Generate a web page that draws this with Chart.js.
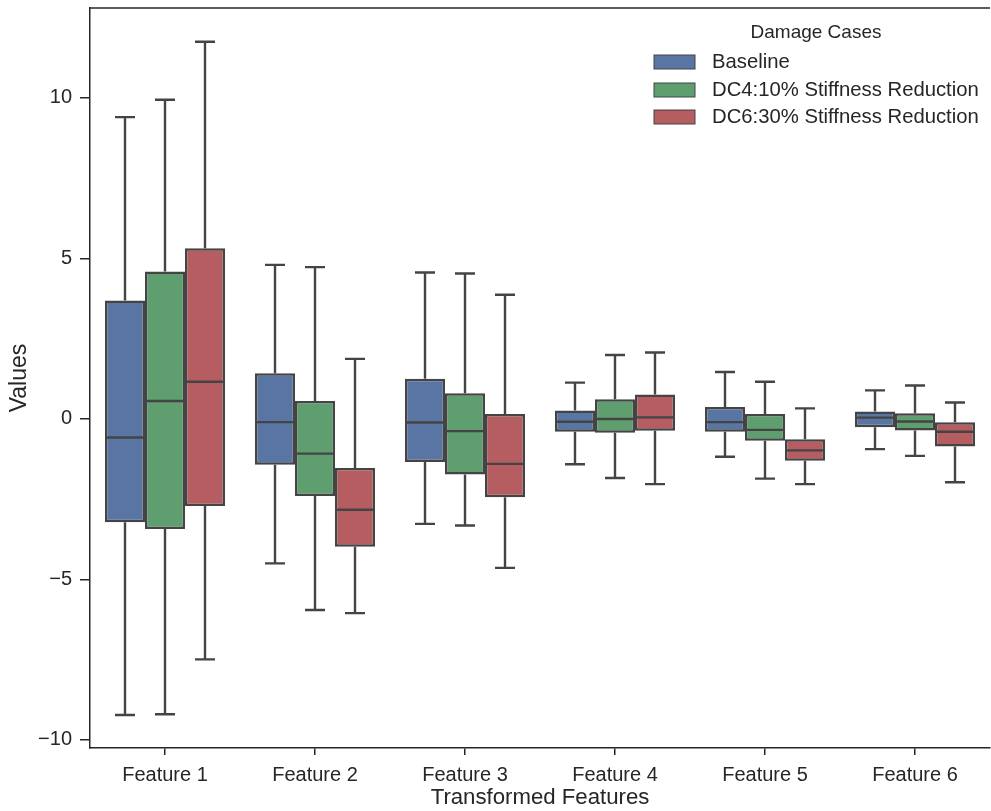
<!DOCTYPE html>
<html>
<head>
<meta charset="utf-8">
<script src="https://cdn.jsdelivr.net/npm/chart.js@4.4.0/dist/chart.umd.min.js"></script>
<style>
  html, body { margin: 0; padding: 0; background: #fff; }
  #wrap { width: 991px; height: 811px; }
</style>
</head>
<body>
<div id="wrap"><canvas id="boxChart"></canvas></div>
<script>
const features = ["Feature 1", "Feature 2", "Feature 3", "Feature 4", "Feature 5", "Feature 6"];
const caseNames = ["Baseline", "DC4:10% Stiffness Reduction", "DC6:30% Stiffness Reduction"];
const yTicks = [-10, -5, 0, 5, 10];

// each entry: [lower whisker, Q1, median, Q3, upper whisker]
const baseline = [
  [-9.22, -3.22, -0.58, 3.69, 9.40],
  [-4.50, -1.43, -0.10, 1.42, 4.80],
  [-3.27, -1.34, -0.11, 1.25, 4.56],
  [-1.41, -0.40, -0.09, 0.26, 1.13],
  [-1.18, -0.40, -0.10, 0.37, 1.46],
  [-0.94, -0.26, 0.04, 0.23, 0.89]
];
const dc4 = [
  [-9.20, -3.43, 0.56, 4.59, 9.94],
  [-5.95, -2.40, -1.08, 0.56, 4.73],
  [-3.32, -1.73, -0.38, 0.80, 4.53],
  [-1.84, -0.43, 0.00, 0.61, 1.99],
  [-1.86, -0.68, -0.34, 0.15, 1.16],
  [-1.15, -0.36, -0.08, 0.18, 1.04]
];
const dc6 = [
  [-7.49, -2.71, 1.16, 5.32, 11.75],
  [-6.05, -3.98, -2.83, -1.53, 1.87],
  [-4.64, -2.44, -1.40, 0.15, 3.87],
  [-2.03, -0.37, 0.05, 0.76, 2.07],
  [-2.03, -1.30, -0.98, -0.63, 0.33],
  [-1.97, -0.86, -0.40, -0.10, 0.51]
];

const colors = ["#5875a4", "#5f9e6e", "#b55d60"];
const lineColor = "#444444";
const textColor = "#262626";
const fontFamily = "'Liberation Sans', Arial, sans-serif";

const allStats = [baseline, dc4, dc6];

/* whiskers, caps, medians, top spine and legend */
const boxParts = {
  id: "boxParts",
  afterDatasetsDraw(chart) {
    const ctx = chart.ctx;
    const y = chart.scales.y;
    ctx.save();
    ctx.strokeStyle = lineColor;
    ctx.lineWidth = 2.4;
    chart.data.datasets.forEach((ds, di) => {
      const meta = chart.getDatasetMeta(di);
      meta.data.forEach((bar, i) => {
        const s = allStats[di][i];
        const x = bar.x, half = bar.width / 2, cap = bar.width / 4;
        const pLo = y.getPixelForValue(s[0]);
        const pQ1 = y.getPixelForValue(s[1]);
        const pMed = y.getPixelForValue(s[2]);
        const pQ3 = y.getPixelForValue(s[3]);
        const pHi = y.getPixelForValue(s[4]);
        ctx.beginPath();
        ctx.moveTo(x, pQ3); ctx.lineTo(x, pHi);
        ctx.moveTo(x - cap, pHi); ctx.lineTo(x + cap, pHi);
        ctx.moveTo(x, pQ1); ctx.lineTo(x, pLo);
        ctx.moveTo(x - cap, pLo); ctx.lineTo(x + cap, pLo);
        ctx.moveTo(x - half + 1, pMed); ctx.lineTo(x + half - 1, pMed);
        ctx.stroke();
      });
    });

    // top spine
    const a = chart.chartArea;
    ctx.strokeStyle = textColor;
    ctx.lineWidth = 1.5;
    ctx.beginPath();
    ctx.moveTo(a.left, a.top);
    ctx.lineTo(a.right, a.top);
    ctx.stroke();

    // legend
    ctx.fillStyle = textColor;
    ctx.font = "19px " + fontFamily;
    ctx.textBaseline = "middle";
    ctx.textAlign = "center";
    ctx.fillText("Damage Cases", 816, 33);
    ctx.textAlign = "left";
    ctx.font = "20.3px " + fontFamily;
    const rows = [62, 90, 117];
    caseNames.forEach((name, k) => {
      ctx.fillStyle = colors[k];
      ctx.fillRect(654, rows[k] - 7, 41, 14);
      ctx.strokeStyle = lineColor;
      ctx.lineWidth = 1;
      ctx.strokeRect(654, rows[k] - 7, 41, 14);
      ctx.fillStyle = textColor;
      ctx.fillText(name, 712, rows[k]);
    });
    ctx.restore();
  }
};

new Chart(document.getElementById("boxChart"), {
  type: "bar",
  data: {
    labels: features,
    datasets: caseNames.map((name, k) => ({
      label: name,
      data: allStats[k].map(s => [s[1], s[3]]),
      backgroundColor: colors[k],
      borderColor: lineColor,
      borderWidth: 2.5,
      borderSkipped: false,
      categoryPercentage: 0.8,
      barPercentage: 1.0
    }))
  },
  options: {
    responsive: true,
    maintainAspectRatio: false,
    animation: false,
    layout: { padding: { top: 8, right: 1, bottom: 0, left: 0 } },
    plugins: {
      legend: { display: false },
      tooltip: { enabled: false }
    },
    scales: {
      x: {
        grid: { offset: false, drawOnChartArea: false, tickLength: 7, color: textColor, lineWidth: 1.5 },
        border: { display: true, color: textColor, width: 1.5 },
        ticks: { color: textColor, font: { size: 20, family: fontFamily }, padding: 8 },
        title: { display: true, text: "Transformed Features", color: textColor,
                 font: { size: 22.2, family: fontFamily }, padding: { top: -3, bottom: 0 } },
        afterFit: s => { s.height = 63; }
      },
      y: {
        min: -10.25,
        max: 12.8,
        afterBuildTicks: s => { s.ticks = yTicks.map(v => ({ value: v })); },
        grid: { drawOnChartArea: false, tickLength: 10, color: textColor, lineWidth: 1.5 },
        border: { display: true, color: textColor, width: 1.5 },
        ticks: {
          color: textColor,
          font: { size: 20, family: fontFamily },
          padding: 8,
          callback: v => String(v).replace("-", "\u2212")
        },
        title: { display: true, text: "Values", color: textColor,
                 font: { size: 23, family: fontFamily }, padding: { top: 6, bottom: 0 } },
        afterFit: s => { s.width = 90; s.paddingTop = 0; s.paddingBottom = 0; }
      }
    }
  },
  plugins: [boxParts]
});
</script>
</body>
</html>
